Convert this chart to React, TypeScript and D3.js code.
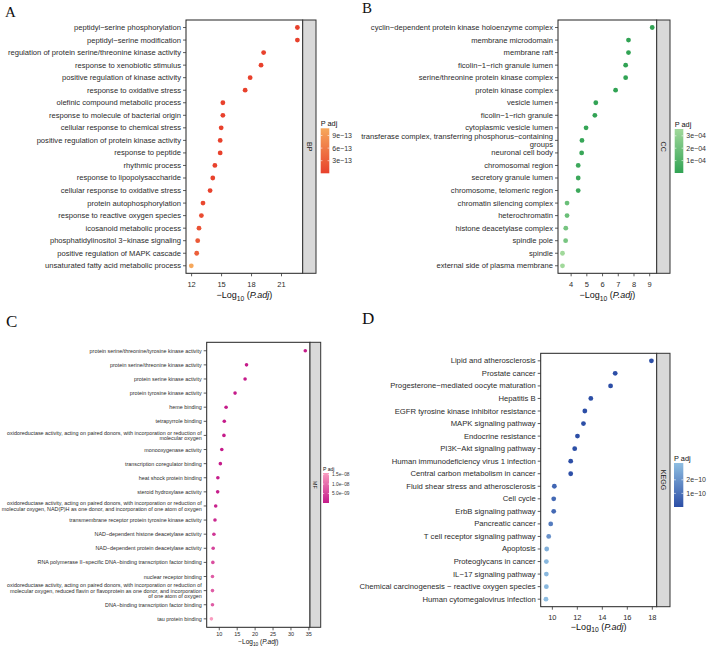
import React from 'react';
import * as d3 from 'd3';

// ---- data ----
const bpTerms = [
  'peptidyl−serine phosphorylation',
  'peptidyl−serine modification',
  'regulation of protein serine/threonine kinase activity',
  'response to xenobiotic stimulus',
  'positive regulation of kinase activity',
  'response to oxidative stress',
  'olefinic compound metabolic process',
  'response to molecule of bacterial origin',
  'cellular response to chemical stress',
  'positive regulation of protein kinase activity',
  'response to peptide',
  'rhythmic process',
  'response to lipopolysaccharide',
  'cellular response to oxidative stress',
  'protein autophosphorylation',
  'response to reactive oxygen species',
  'icosanoid metabolic process',
  'phosphatidylinositol 3−kinase signaling',
  'positive regulation of MAPK cascade',
  'unsaturated fatty acid metabolic process',
];
const bpLogP = [22.59, 22.59, 19.21, 18.95, 17.86, 17.36, 15.13, 15.13, 14.96, 14.86, 14.86, 14.33, 14.12, 13.85, 13.14, 12.98, 12.74, 12.61, 12.51, 11.97];
const bpTicks = [12, 15, 18, 21];
const bpLegendTicks = [3e-13, 6e-13, 9e-13];
const bpLegendLabels = ['3e−13', '6e−13', '9e−13'];

const ccTerms = [
  'cyclin−dependent protein kinase holoenzyme complex',
  'membrane microdomain',
  'membrane raft',
  'ficolin−1−rich granule lumen',
  'serine/threonine protein kinase complex',
  'protein kinase complex',
  'vesicle lumen',
  'ficolin−1−rich granule',
  'cytoplasmic vesicle lumen',
  'transferase complex, transferring phosphorus−containing\ngroups',
  'neuronal cell body',
  'chromosomal region',
  'secretory granule lumen',
  'chromosome, telomeric region',
  'chromatin silencing complex',
  'heterochromatin',
  'histone deacetylase complex',
  'spindle pole',
  'spindle',
  'external side of plasma membrane',
];
const ccLogP = [9.16, 7.65, 7.65, 7.47, 7.47, 6.83, 5.57, 5.51, 4.95, 4.69, 4.67, 4.45, 4.45, 4.45, 3.74, 3.74, 3.66, 3.65, 3.45, 3.45];
const ccTicks = [4, 5, 6, 7, 8, 9];
const ccLegendTicks = [1e-4, 2e-4, 3e-4];
const ccLegendLabels = ['1e−04', '2e−04', '3e−04'];

const mfTerms = [
  'protein serine/threonine/tyrosine kinase activity',
  'protein serine/threonine kinase activity',
  'protein serine kinase activity',
  'protein tyrosine kinase activity',
  'heme binding',
  'tetrapyrrole binding',
  'oxidoreductase activity, acting on paired donors, with incorporation or reduction of\nmolecular oxygen',
  'monooxygenase activity',
  'transcription coregulator binding',
  'heat shock protein binding',
  'steroid hydroxylase activity',
  'oxidoreductase activity, acting on paired donors, with incorporation or reduction of\nmolecular oxygen, NAD(P)H as one donor, and incorporation of one atom of oxygen',
  'transmembrane receptor protein tyrosine kinase activity',
  'NAD−dependent histone deacetylase activity',
  'NAD−dependent protein deacetylase activity',
  'RNA polymerase II−specific DNA−binding transcription factor binding',
  'nuclear receptor binding',
  'oxidoreductase activity, acting on paired donors, with incorporation or reduction of\nmolecular oxygen, reduced flavin or flavoprotein as one donor, and incorporation\nof one atom of oxygen',
  'DNA−binding transcription factor binding',
  'tau protein binding',
];
const mfLogP = [34.0, 17.6, 17.2, 14.4, 11.9, 11.4, 11.3, 10.7, 10.3, 9.6, 9.55, 9.0, 8.8, 8.5, 8.3, 8.2, 8.1, 8.1, 8.1, 7.8];
const mfTicks = [10, 15, 20, 25, 30, 35];
const mfLegendTicks = [5e-9, 1e-8, 1.5e-8];
const mfLegendLabels = ['5.0e−09', '1.0e−08', '1.5e−08'];

const keggTerms = [
  'Lipid and atherosclerosis',
  'Prostate cancer',
  'Progesterone−mediated oocyte maturation',
  'Hepatitis B',
  'EGFR tyrosine kinase inhibitor resistance',
  'MAPK signaling pathway',
  'Endocrine resistance',
  'PI3K−Akt signaling pathway',
  'Human immunodeficiency virus 1 infection',
  'Central carbon metabolism in cancer',
  'Fluid shear stress and atherosclerosis',
  'Cell cycle',
  'ErbB signaling pathway',
  'Pancreatic cancer',
  'T cell receptor signaling pathway',
  'Apoptosis',
  'Proteoglycans in cancer',
  'IL−17 signaling pathway',
  'Chemical carcinogenesis − reactive oxygen species',
  'Human cytomegalovirus infection',
];
const keggLogP = [17.93, 15.03, 14.66, 13.08, 12.6, 12.49, 12.01, 11.79, 11.47, 11.47, 10.16, 10.11, 10.11, 9.87, 9.71, 9.55, 9.52, 9.52, 9.52, 9.49];
const keggTicks = [10, 12, 14, 16, 18];
const keggLegendTicks = [1e-10, 2e-10];
const keggLegendLabels = ['1e−10', '2e−10'];

const FONT = '"Liberation Sans", Arial, sans-serif';

type PanelProps = {
  letter: string;
  letterX: number;
  letterY: number;
  letterSize: number;
  strip: string;
  terms: string[];
  values: number[];
  ticks: number[];
  legendTicks: number[];
  legendLabels: string[];
  low: string;
  high: string;
  box: { left: number; right: number; top: number; bottom: number; strip: number };
  font: number;
  tickFont: number;
  titleFont: number;
  tickY: number;
  titleY: number;
  r: number;
  legend: { x: number; y: number; w: number; h: number; font: number };
};

const DotPanel: React.FC<PanelProps> = (p) => {
  const { box } = p;
  const [lo, hi] = d3.extent(p.values) as [number, number];
  const pad = (hi - lo) * 0.05;
  const x = d3.scaleLinear().domain([lo - pad, hi + pad]).range([box.left, box.right]);
  const y = d3.scalePoint<string>().domain(p.terms).range([box.top, box.bottom]).padding(0.6);
  const padj = p.values.map((v) => Math.pow(10, -v));
  const [pMin, pMax] = d3.extent(padj) as [number, number];
  const color = d3.scaleLinear<string>().domain([pMin, pMax]).range([p.low, p.high]).interpolate(d3.interpolateRgb);
  const lg = p.legend;
  const ly = d3.scaleLinear().domain([pMin, pMax]).range([lg.y + lg.h, lg.y]);
  const gradId = `grad-${p.strip}`;
  const lineH = p.font * 1.07;
  const cx = (box.left + box.right) / 2;
  const stripX = box.right;
  const stripMid = (box.top + box.bottom) / 2;

  return (
    <g fontFamily={FONT}>
      <defs>
        <linearGradient id={gradId} x1="0" y1="1" x2="0" y2="0">
          {d3.range(11).map((i) => (
            <stop key={i} offset={`${i * 10}%`} stopColor={color(pMin + ((pMax - pMin) * i) / 10)} />
          ))}
        </linearGradient>
      </defs>
      <text x={p.letterX} y={p.letterY} fontFamily='"Liberation Serif", serif' fontSize={p.letterSize} fill="#111">
        {p.letter}
      </text>
      {/* panel */}
      <rect x={box.left} y={box.top} width={box.right - box.left} height={box.bottom - box.top} fill="#fff" stroke="#222" strokeWidth={1} />
      <rect x={stripX} y={box.top} width={box.strip} height={box.bottom - box.top} fill="#d9d9d9" stroke="#333" strokeWidth={1} />
      <text
        transform={`translate(${stripX + box.strip / 2},${stripMid}) rotate(90)`}
        textAnchor="middle"
        dominantBaseline="central"
        fontSize={p.tickFont * 0.95}
        fill="#1a1a1a"
      >
        {p.strip}
      </text>
      {/* y axis */}
      {p.terms.map((t) => {
        const yy = y(t) as number;
        const lines = t.split('\n');
        const y0 = yy - ((lines.length - 1) * lineH) / 2;
        return (
          <g key={t}>
            <line x1={box.left - 3} x2={box.left} y1={yy} y2={yy} stroke="#333" strokeWidth={0.8} />
            <text x={box.left - 5} textAnchor="end" fontSize={p.font} fill="#2b2b2b">
              {lines.map((l, i) => (
                <tspan key={i} x={box.left - 5} y={y0 + i * lineH} dominantBaseline="central">
                  {l}
                </tspan>
              ))}
            </text>
          </g>
        );
      })}
      {/* x axis */}
      {p.ticks.map((t) => (
        <g key={t}>
          <line x1={x(t)} x2={x(t)} y1={box.bottom} y2={box.bottom + 3} stroke="#333" strokeWidth={0.8} />
          <text x={x(t)} y={box.bottom + p.tickY} textAnchor="middle" fontSize={p.tickFont} fill="#2b2b2b">
            {t}
          </text>
        </g>
      ))}
      <text x={cx} y={box.bottom + p.titleY} textAnchor="middle" fontSize={p.titleFont} fill="#111">
        <tspan>−Log</tspan>
        <tspan fontSize={p.titleFont * 0.75} dy={p.titleFont * 0.3}>10</tspan>
        <tspan dy={-p.titleFont * 0.3}> (</tspan>
        <tspan fontStyle="italic">P.adj</tspan>
        <tspan>)</tspan>
      </text>
      {/* points */}
      {p.terms.map((t, i) => (
        <circle key={t} cx={x(p.values[i])} cy={y(t) as number} r={p.r} fill={color(padj[i])} />
      ))}
      {/* legend */}
      <text x={lg.x} y={lg.y - 2.5} fontSize={lg.font * 1.05} fill="#111">
        P adj
      </text>
      <rect x={lg.x} y={lg.y} width={lg.w} height={lg.h} fill={`url(#${gradId})`} />
      {p.legendTicks.map((v, i) => (
        <g key={v}>
          <line x1={lg.x} x2={lg.x + lg.w * 0.2} y1={ly(v)} y2={ly(v)} stroke="#fff" strokeWidth={0.6} />
          <line x1={lg.x + lg.w * 0.8} x2={lg.x + lg.w} y1={ly(v)} y2={ly(v)} stroke="#fff" strokeWidth={0.6} />
          <text x={lg.x + lg.w + 3} y={ly(v)} dominantBaseline="central" fontSize={lg.font} fill="#333">
            {p.legendLabels[i]}
          </text>
        </g>
      ))}
    </g>
  );
};

export default function App() {
  return (
    <svg width={708} height={647} style={{ position: 'absolute', left: 0, top: 0, background: '#fff' }}>
      <DotPanel
        letter="A" letterX={5} letterY={16.5} letterSize={15} strip="BP"
        terms={bpTerms} values={bpLogP} ticks={bpTicks}
        legendTicks={bpLegendTicks} legendLabels={bpLegendLabels}
        low="#e8412c" high="#f6a85c"
        box={{ left: 186, right: 302.7, top: 20, bottom: 273.3, strip: 13.3 }}
        font={7.6} tickFont={7.5} titleFont={9} tickY={14} titleY={24.5} r={2.4}
        legend={{ x: 320.7, y: 128.3, w: 8.6, h: 45, font: 7 }}
      />
      <DotPanel
        letter="B" letterX={362} letterY={13} letterSize={15} strip="CC"
        terms={ccTerms} values={ccLogP} ticks={ccTicks}
        legendTicks={ccLegendTicks} legendLabels={ccLegendLabels}
        low="#31a354" high="#a1d99b"
        box={{ left: 558, right: 656.7, top: 20, bottom: 273.3, strip: 13.3 }}
        font={7.6} tickFont={7.5} titleFont={9} tickY={14} titleY={24.5} r={2.4}
        legend={{ x: 674.7, y: 129, w: 8.6, h: 44, font: 7 }}
      />
      <DotPanel
        letter="C" letterX={6} letterY={327} letterSize={17} strip="MF"
        terms={mfTerms} values={mfLogP} ticks={mfTicks}
        legendTicks={mfLegendTicks} legendLabels={mfLegendLabels}
        low="#c51b8a" high="#f99cbf"
        box={{ left: 206.7, right: 310, top: 342.3, bottom: 627.3, strip: 10.7 }}
        font={5.4} tickFont={5.5} titleFont={6.5} tickY={8.8} titleY={16.5} r={1.8}
        legend={{ x: 323, y: 473, w: 6, h: 30, font: 4.8 }}
      />
      <DotPanel
        letter="D" letterX={362} letterY={324} letterSize={17} strip="KEGG"
        terms={keggTerms} values={keggLogP} ticks={keggTicks}
        legendTicks={keggLegendTicks} legendLabels={keggLegendLabels}
        low="#2c4ea6" high="#8fbee2"
        box={{ left: 540.7, right: 656.7, top: 353.3, bottom: 606.7, strip: 13.3 }}
        font={7.7} tickFont={7.5} titleFont={9} tickY={13.5} titleY={23} r={2.4}
        legend={{ x: 674, y: 463, w: 9.3, h: 44, font: 7 }}
      />
    </svg>
  );
}
